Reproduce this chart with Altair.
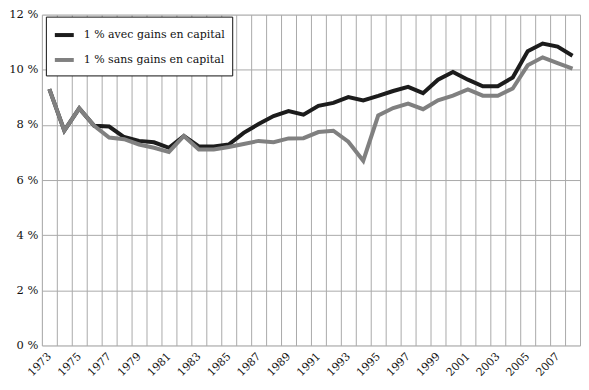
import altair as alt
import pandas as pd

years = list(range(1973, 2009))
avec = [9.30, 7.79, 8.60, 7.97, 7.94, 7.56, 7.42, 7.37, 7.17, 7.60,
        7.22, 7.22, 7.29, 7.71, 8.03, 8.32, 8.50, 8.37, 8.69, 8.80,
        9.01, 8.89, 9.05, 9.23, 9.38, 9.15, 9.64, 9.92, 9.64, 9.40,
        9.40, 9.72, 10.67, 10.95, 10.84, 10.51]
sans = [9.30, 7.79, 8.60, 7.97, 7.54, 7.48, 7.29, 7.17, 7.02, 7.60,
        7.11, 7.11, 7.20, 7.31, 7.42, 7.37, 7.51, 7.52, 7.74, 7.79,
        7.39, 6.70, 8.34, 8.61, 8.77, 8.57, 8.89, 9.06, 9.29, 9.06,
        9.06, 9.32, 10.16, 10.45, 10.24, 10.04]
series_names = ["1 % avec gains en capital", "1 % sans gains en capital"]
series_colors = ["#1c1c1c", "#808080"]
y_ticks = [0, 2, 4, 6, 8, 10, 12]

rows = []
for i, yr in enumerate(years):
    rows.append({"year": yr, "value": avec[i], "serie": series_names[0]})
    rows.append({"year": yr, "value": sans[i], "serie": series_names[1]})
df = pd.DataFrame(rows)

FONT = "DejaVu Serif"

chart = alt.Chart(df).mark_line(strokeWidth=4, strokeJoin="miter").encode(
    x=alt.X("year:O",
            scale=alt.Scale(type="band", paddingInner=0, paddingOuter=0),
            axis=alt.Axis(title=None, tickBand="extent", grid=True, ticks=False,
                          domain=False, labelAngle=-45, labelAlign="right",
                          labelBaseline="middle", labelPadding=9,
                          labelExpr="datum.value % 2 == 1 ? datum.label : ''",
                          labelFont=FONT, labelFontSize=11, labelColor="#111",
                          gridColor="#aaaaaa", gridWidth=1, gridOpacity=1)),
    y=alt.Y("value:Q",
            scale=alt.Scale(domain=[0, 12], nice=False),
            axis=alt.Axis(title=None, values=y_ticks, ticks=False, domain=False,
                          labelExpr="datum.value + ' %'", labelPadding=4,
                          labelFont=FONT, labelFontSize=11.5, labelColor="#111",
                          gridColor="#aaaaaa", gridWidth=1, gridOpacity=1)),
    color=alt.Color("serie:N",
                    scale=alt.Scale(domain=series_names, range=series_colors),
                    legend=alt.Legend(title=None, orient="none", legendX=4,
                                      legendY=2, direction="vertical",
                                      strokeColor="#111", fillColor="white",
                                      padding=7, symbolType="stroke",
                                      symbolStrokeWidth=4, symbolSize=361,
                                      labelFont=FONT, labelFontSize=11,
                                      labelColor="#111", labelOffset=8,
                                      rowPadding=5, labelLimit=300)),
).properties(
    width=540, height=332, padding=0
).configure_view(stroke=None).configure(background="white")

chart.save("out.html", embed_options={"renderer": "svg", "actions": False})
